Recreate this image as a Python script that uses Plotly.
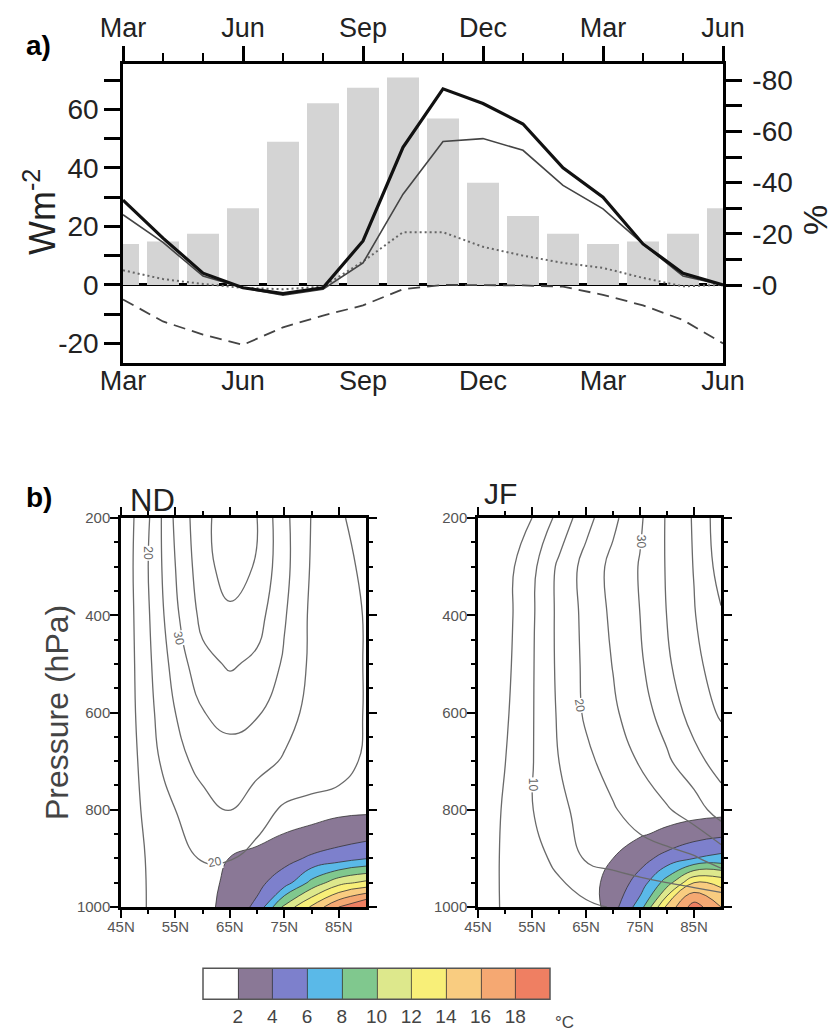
import plotly.graph_objects as go

W, H = 833, 1032
def fx(px): return px / W
def fy(py): return 1 - py / H

FONT = "Liberation Sans, Arial, sans-serif"

# ---------------- panel a data ----------------
months = ['Mar', 'Apr', 'May', 'Jun', 'Jul', 'Aug', 'Sep', 'Oct', 'Nov', 'Dec',
          'Jan', 'Feb', 'Mar', 'Apr', 'May', 'Jun']
season_ticks = [0, 3, 6, 9, 12, 15]
season_labels = ['Mar', 'Jun', 'Sep', 'Dec', 'Mar', 'Jun']
flux_ticks = [-20, 0, 20, 40, 60]
flux_tick_labels = ['-20', '0', '20', '40', '60']
pct_ticks = [-80, -60, -40, -20, 0]
pct_tick_labels = ['-80', '-60', '-40', '-20', '-0']
bar_pct = [-16, -17, -20, -30, -56, -71, -77, -81, -65, -40, -27, -20, -16, -17, -20, -30]
flux_total = [29, 16, 4, -1, -3, -1, 15, 47, 67, 62, 55, 40, 30, 14, 4, 0]
flux_thin = [24, 14.5, 3, -1, -3.5, -1.5, 7.5, 31, 49, 50, 46, 34, 26, 14, 3, 0]
flux_dotted = [5, 2, 0.3, -1, -1.5, -0.6, 8, 18, 18, 13, 10, 7.5, 5.8, 2.4, -0.5, 0]
flux_dashed = [-5, -12.5, -17, -20.5, -14.5, -10.5, -7, -1.5, 0, 0, -0.2, -0.6, -3.4, -7, -12, -20]

# ---------------- panel b data ----------------
lats = [45, 50, 55, 60, 65, 70, 75, 80, 85, 90]
lat_ticks = [45, 55, 65, 75, 85]
lat_labels = ['45N', '55N', '65N', '75N', '85N']
plev = [200, 300, 400, 500, 600, 700, 800, 900, 1000]
plev_fill = [700, 800, 850, 900, 950, 1000]

nd_lines = [
    [11, 19.4, 31, 38.5, 43, 40, 31.3, 24.8, 21, 17],
    [11, 20, 30, 38, 42.5, 39.5, 31.5, 24.5, 22.5, 18.5],
    [11, 19.5, 29, 36.5, 39, 37, 30.5, 24, 22, 19.7],
    [11, 19, 27, 33.5, 35.6, 34, 29.3, 24, 21.5, 19.8],
    [11, 18.5, 25, 29.8, 31.6, 30.5, 27, 23.5, 21.5, 19.8],
    [11, 17.5, 23.5, 26.5, 28, 26.8, 24.5, 22.5, 21, 19.6],
    [11, 16.5, 20, 23.5, 25.3, 22, 19.3, 18.8, 19, 19],
    [11, 15.5, 18, 20.3, 20.2, 18.5, 17.5, 17, 17, 17],
    [11, 15.3, 16.5, 17, 17, 16.5, 16, 16, 16, 16],
]
jf_lines = [
    [0.5, 2, 5, 11.5, 18.3, 23.8, 29.3, 35.5, 40.5, 48],
    [1, 3, 8.7, 16, 21.8, 26.4, 30.3, 35.4, 40.2, 47],
    [1, 3.2, 9.3, 16.2, 21.4, 26, 30, 35.1, 39.7, 44.5],
    [1, 3.6, 9.5, 16.1, 21.1, 25.2, 29.3, 34.2, 39, 42],
    [1, 4.2, 9.6, 15.7, 20.8, 24.2, 27.8, 32.2, 36.9, 40.7],
    [1, 4.9, 9.7, 15, 18.8, 22.2, 25.4, 29.2, 33.5, 37],
    [1.5, 5.6, 9.8, 14, 16.5, 19.5, 22.5, 24.5, 27.5, 32.5],
    [2, 5.8, 8.3, 11.2, 15.5, 16.5, 17.5, 18.5, 19.5, 22],
    [3, 5.5, 6.8, 7.9, 9, 10.3, 11, 11.5, 12, 12],
]
nd_fill = [
    [0, 0, 0, 0, 0, 0, 0, 0, 0, 0],
    [0, 0, 0, 0, 0, 0, 0.5, 1.2, 1.6, 1.7],
    [0, 0, 0, 0, 0, 1.2, 2.05, 2.5, 2.9, 3.2],
    [0, 0, 0, 0, 2.1, 2.8, 3.4, 4.3, 5, 5.9],
    [0, 0, 0, 1.0, 2.6, 3.5, 5, 8.6, 11.3, 12.5],
    [0, 0, 0, 1.2, 2.9, 4.4, 10.6, 14.3, 18, 20.5],
]
jf_fill = [
    [0, 0, 0, 0, 0, 0, 0, 0, 0, 0],
    [0, 0, 0, 0, 0, 0, 0.5, 1.1, 1.2, 1.3],
    [0, 0, 0, 0, 0, 1.2, 1.8, 2.4, 3.1, 3.6],
    [0, 0, 0, 0, 0.5, 2, 3.3, 4.7, 6, 6.6],
    [0, 0, 0, 0, 1.2, 2.7, 4.8, 9, 14, 13.5],
    [0, 0, 0, 0, 0.5, 3.2, 7, 14.5, 19, 16],
]
fill_levels = [2, 4, 6, 8, 10, 12, 14, 16, 18]
fill_colors = ['#ffffff', '#8a7896', '#7d80cc', '#5ab9e8', '#80c88e',
               '#dde88c', '#f8ef78', '#f9cc80', '#f5a872', '#ef7f62']

# contour label text: (text, lat, pressure, angle)
nd_labels = [('20', 50.0, 273, 90), ('30', 55.6, 447, 78), ('20', 62.2, 908, -12)]
jf_labels = [('30', 75.2, 249, 90), ('20', 63.8, 585, 80), ('10', 55.2, 749, 90)]

# discrete colour scale
cscale = []
n = len(fill_colors)
for i, c in enumerate(fill_colors):
    cscale.append([i / n, c])
    cscale.append([(i + 1) / n, c])

xm = list(range(len(months)))

fig = go.Figure()

# bars (base subplot x / y  -> percent axis)
fig.add_trace(go.Bar(x=xm, y=bar_pct, width=0.8, marker=dict(color='#d4d4d4', line=dict(width=0)),
                     xaxis='x', yaxis='y', hoverinfo='skip'))
# lines on W m-2 axis
fig.add_trace(go.Scatter(x=xm, y=flux_dashed, mode='lines', line=dict(color='#444', width=1.8, dash='12px,7px'),
                         xaxis='x', yaxis='y2'))
fig.add_trace(go.Scatter(x=xm, y=flux_dotted, mode='lines', line=dict(color='#666', width=2.0, dash='2px,3px'),
                         xaxis='x', yaxis='y2'))
fig.add_trace(go.Scatter(x=xm, y=flux_thin, mode='lines', line=dict(color='#444', width=1.6),
                         xaxis='x', yaxis='y2'))
fig.add_trace(go.Scatter(x=xm, y=flux_total, mode='lines', line=dict(color='#111', width=3.2),
                         xaxis='x', yaxis='y2'))
# invisible trace to activate the top axis
fig.add_trace(go.Scatter(x=[xm[0], xm[-1]], y=[0, 0], mode='lines', line=dict(width=0),
                         xaxis='x2', yaxis='y2', hoverinfo='skip', showlegend=False))

# panel b fills
fill_common = dict(colorscale=cscale, zmin=0, zmax=20, zauto=False,
                   contours=dict(start=fill_levels[0], end=fill_levels[-1], size=2, coloring='fill', showlines=True),
                   line=dict(color='#333', width=0.8, smoothing=1.3), hoverinfo='skip')
fig.add_trace(go.Contour(x=lats, y=plev_fill, z=nd_fill, xaxis='x3', yaxis='y3', showscale=True,
                         colorbar=dict(orientation='h', x=fx(376.5), xanchor='center', y=fy(995), yanchor='middle',
                                       len=347, lenmode='pixels', thickness=31, thicknessmode='pixels',
                                       tickvals=fill_levels, ticktext=[str(v) for v in fill_levels],
                                       ticks='', tickfont=dict(size=19, color='#444', family=FONT),
                                       outlinewidth=1.5, outlinecolor='#555', xpad=0, ypad=0),
                         **fill_common))
fig.add_trace(go.Contour(x=lats, y=plev_fill, z=jf_fill, xaxis='x4', yaxis='y4', showscale=False, **fill_common))

line_common = dict(contours=dict(start=5, end=50, size=5, coloring='none'),
                   line=dict(color='#6a6a6a', width=1.3, smoothing=1.3), showscale=False, hoverinfo='skip')
fig.add_trace(go.Contour(x=lats, y=plev, z=nd_lines, xaxis='x3', yaxis='y3', **line_common))
fig.add_trace(go.Contour(x=lats, y=plev, z=jf_lines, xaxis='x4', yaxis='y4', **line_common))

axis_line = dict(showline=True, linewidth=2.5, linecolor='black', showgrid=False, zeroline=False)
tfa = dict(size=27, color='#222', family=FONT)

layout = dict(
    width=W, height=H, margin=dict(l=0, r=0, t=0, b=0, autoexpand=False),
    paper_bgcolor='white', plot_bgcolor='white', showlegend=False,
    font=dict(family=FONT),
    bargap=0.2,
    xaxis=dict(domain=[fx(123), fx(723)], range=[0, 15], tickvals=season_ticks, ticktext=season_labels,
               ticks='', tickfont=tfa, anchor='y', ticklabelstandoff=-8, **axis_line),
    xaxis2=dict(overlaying='x', side='top', range=[0, 15], tickvals=season_ticks, ticktext=season_labels,
                ticks='outside', ticklen=15, tickwidth=2.5, tickcolor='black',
                minor=dict(tickvals=[1, 2, 4, 5, 7, 8, 10, 11, 13, 14], ticks='outside', ticklen=8,
                           tickwidth=2, tickcolor='black'),
                tickfont=tfa, anchor='y', ticklabelstandoff=-2, **axis_line),
    yaxis=dict(domain=[fy(363), fy(64)], range=[30.4, -86.3], side='right', anchor='x',
               tickvals=pct_ticks, ticktext=pct_tick_labels,
               ticks='outside', ticklen=16, tickwidth=2.5, tickcolor='black',
               minor=dict(tickvals=[-70, -50, -30, -10], ticks='outside', ticklen=16, tickwidth=2.5,
                          tickcolor='black'),
               tickfont=dict(size=28, color='#222', family=FONT), ticklabelstandoff=5, **axis_line),
    yaxis2=dict(overlaying='y', side='left', range=[-26.7, 75.5], anchor='x',
                tickvals=flux_ticks, ticktext=flux_tick_labels,
                ticks='outside', ticklen=16, tickwidth=2.5, tickcolor='black',
                minor=dict(tickvals=[-10, 10, 30, 50, 70], ticks='outside', ticklen=16, tickwidth=2.5,
                           tickcolor='black'),
                tickfont=dict(size=28, color='#222', family=FONT), ticklabelstandoff=0,
                showline=True, linewidth=2.5, linecolor='black', showgrid=False,
                zeroline=True, zerolinewidth=2.5, zerolinecolor='black'),
)

tfb = dict(size=15, color='#555', family=FONT)
for xa, ya, x0, x1 in [('xaxis3', 'yaxis3', 121, 366), ('xaxis4', 'yaxis4', 478, 721)]:
    xn = 'x' + xa[5:]
    yn = 'y' + ya[5:]
    layout[xa] = dict(domain=[fx(x0), fx(x1)], range=[45, 90], anchor=yn,
                      tickvals=lat_ticks, ticktext=lat_labels, ticks='outside', ticklen=8, tickwidth=2,
                      tickcolor='black', mirror='ticks',
                      minor=dict(tickvals=[50, 60, 70, 80], ticks='outside', ticklen=4, tickwidth=1.5,
                                 tickcolor='black'),
                      tickfont=tfb, ticklabelstandoff=-4, **axis_line)
    layout[ya] = dict(domain=[fy(907), fy(518)], range=[1000, 200], anchor=xn,
                      tickvals=[200, 400, 600, 800, 1000], ticks='outside', ticklen=8, tickwidth=2,
                      tickcolor='black', mirror='ticks',
                      minor=dict(dtick=50, tick0=0, ticks='outside', ticklen=4, tickwidth=1.5, tickcolor='black'),
                      tickfont=tfb, ticklabelstandoff=-3, **axis_line)

annotations = [
    dict(text='<b>a)</b>', x=fx(24), y=fy(46), xanchor='left', yanchor='middle',
         font=dict(size=28, color='black', family=FONT)),
    dict(text='<b>b)</b>', x=fx(24), y=fy(498), xanchor='left', yanchor='middle',
         font=dict(size=28, color='black', family=FONT)),
    dict(text='Wm<sup>-2</sup>', x=fx(40), y=fy(212), textangle=-90, xanchor='center', yanchor='middle',
         font=dict(size=36, color='#222', family=FONT)),
    dict(text='%', x=fx(815), y=fy(220), textangle=-90, xanchor='center', yanchor='middle',
         font=dict(size=34, color='#222', family=FONT)),
    dict(text='ND', x=fx(128), y=fy(500), xanchor='left', yanchor='middle',
         font=dict(size=31, color='#222', family=FONT)),
    dict(text='JF', x=fx(482), y=fy(494), xanchor='left', yanchor='middle',
         font=dict(size=30, color='#222', family=FONT)),
    dict(text='Pressure (hPa)', x=fx(57), y=fy(713), textangle=-90, xanchor='center', yanchor='middle',
         font=dict(size=32, color='#444', family=FONT)),
    dict(text='°C', x=fx(553), y=fy(1022), xanchor='left', yanchor='middle',
         font=dict(size=17, color='#444', family=FONT)),
]
for labs, xr, yr in [(nd_labels, 'x3', 'y3'), (jf_labels, 'x4', 'y4')]:
    for t, la, p, ang in labs:
        annotations.append(dict(text=t, x=la, y=p, xref=xr, yref=yr, textangle=ang, showarrow=False,
                                bgcolor='white', borderpad=0,
                                font=dict(size=12, color='#666', family=FONT)))
for a in annotations:
    a.setdefault('xref', 'paper')
    a.setdefault('yref', 'paper')
    a.setdefault('showarrow', False)
layout['annotations'] = annotations

fig.update_layout(**layout)
fig.write_html("out.html")
